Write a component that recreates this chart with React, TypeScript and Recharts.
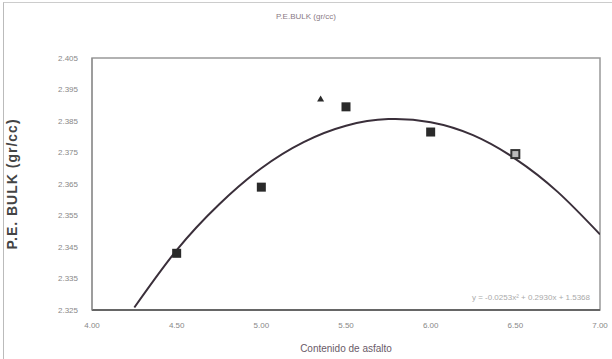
import {
  ComposedChart,
  Label,
  Line,
  ReferenceArea,
  Scatter,
  XAxis,
  YAxis,
} from "recharts";

// asphalt content (%) vs bulk specific gravity
const contenido = [4.5, 5.0, 5.5, 6.0];
const bulk = [2.343, 2.364, 2.3895, 2.3815];
const extraX = [6.5];
const extraY = [2.3745];
const outlierX = [5.35];
const outlierY = [2.392];

// trend curve, read at points along the drawn line
const curvaX = [4.25, 4.5, 4.75, 5.0, 5.25, 5.5, 5.75, 6.0, 6.25, 6.5, 6.75, 7.0];
const curvaY = [2.3258, 2.344, 2.3585, 2.37, 2.3783, 2.3835, 2.3856, 2.3846, 2.3805, 2.373, 2.3625, 2.349];

const xTicks = [4.0, 4.5, 5.0, 5.5, 6.0, 6.5, 7.0];
const yTicks = [2.325, 2.335, 2.345, 2.355, 2.365, 2.375, 2.385, 2.395, 2.405];

const puntos = contenido.map((x, i) => ({ x, y: bulk[i] }));
const huecos = extraX.map((x, i) => ({ x, y: extraY[i] }));
const raros = outlierX.map((x, i) => ({ x, y: outlierY[i] }));
const curva = curvaX.map((x, i) => ({ x, y: curvaY[i] }));

const font = "'Liberation Sans', Arial, sans-serif";

const Square = (p: any) => (
  <rect x={p.cx - 4.5} y={p.cy - 4.5} width={9} height={9} fill="#2a2a2a" />
);

const Hollow = (p: any) => (
  <rect
    x={p.cx - 4}
    y={p.cy - 4}
    width={8}
    height={8}
    fill="#bbb"
    stroke="#333"
    strokeWidth={2}
  />
);

const Tri = (p: any) => (
  <path
    d={`M${p.cx},${p.cy - 3.5}L${p.cx + 3.5},${p.cy + 2.5}L${p.cx - 3.5},${p.cy + 2.5}Z`}
    fill="#2a2a2a"
  />
);

export default function App() {
  return (
    <div
      style={{
        position: "absolute",
        left: 0,
        top: 0,
        width: 612,
        height: 359,
        background: "#fff",
        fontFamily: font,
      }}
    >
      <div
        style={{
          position: "absolute",
          left: 3,
          top: 2,
          width: 609,
          height: 357,
          borderLeft: "1px solid #bbb",
          borderTop: "1px solid #ccc",
        }}
      />
      <div
        style={{
          position: "absolute",
          top: 12,
          width: 612,
          textAlign: "center",
          fontSize: 8,
          color: "#8a7a85",
        }}
      >
        P.E.BULK (gr/cc)
      </div>
      <ComposedChart
        width={612}
        height={359}
        margin={{ top: 58, right: 12, bottom: 0, left: 0 }}
        style={{ fontFamily: font }}
      >
        <XAxis
          type="number"
          dataKey="x"
          domain={[4, 7]}
          ticks={xTicks}
          tickFormatter={(v: number) => v.toFixed(2)}
          tick={{ fontSize: 8, fill: "#888" }}
          tickLine={false}
          axisLine={{ stroke: "#666", strokeWidth: 2 }}
          height={49}
          tickMargin={6}
          allowDataOverflow
        >
          <Label
            value="Contenido de asfalto"
            position="insideBottom"
            offset={7}
            style={{ fontSize: 10, fill: "#6a5a68" }}
          />
        </XAxis>
        <YAxis
          type="number"
          dataKey="y"
          domain={[2.325, 2.405]}
          ticks={yTicks}
          tickFormatter={(v: number) => v.toFixed(3)}
          tick={{ fontSize: 8, fill: "#888" }}
          tickLine={false}
          axisLine={{ stroke: "#888" }}
          width={92}
          tickMargin={8}
          allowDataOverflow
        >
          <Label
            value="P.E. BULK (gr/cc)"
            angle={-90}
            position="insideLeft"
            offset={12}
            style={{
              fontSize: 14,
              fontWeight: "bold",
              fill: "#444",
              textAnchor: "middle",
              letterSpacing: 1,
            }}
          />
        </YAxis>
        <ReferenceArea
          x1={4}
          x2={7}
          y1={2.325}
          y2={2.405}
          fill="none"
          stroke="#999"
          strokeWidth={1.5}
        />
        <Line
          data={curva}
          dataKey="y"
          type="natural"
          stroke="#3a2f3a"
          strokeWidth={2}
          dot={false}
          isAnimationActive={false}
        />
        <Scatter data={puntos} shape={Square} isAnimationActive={false} />
        <Scatter data={huecos} shape={Hollow} isAnimationActive={false} />
        <Scatter data={raros} shape={Tri} isAnimationActive={false} />
      </ComposedChart>
      <div
        style={{
          position: "absolute",
          top: 293,
          right: 22,
          fontSize: 8,
          color: "#aaa",
        }}
      >
        y = -0.0253x² + 0.2930x + 1.5368
      </div>
    </div>
  );
}
